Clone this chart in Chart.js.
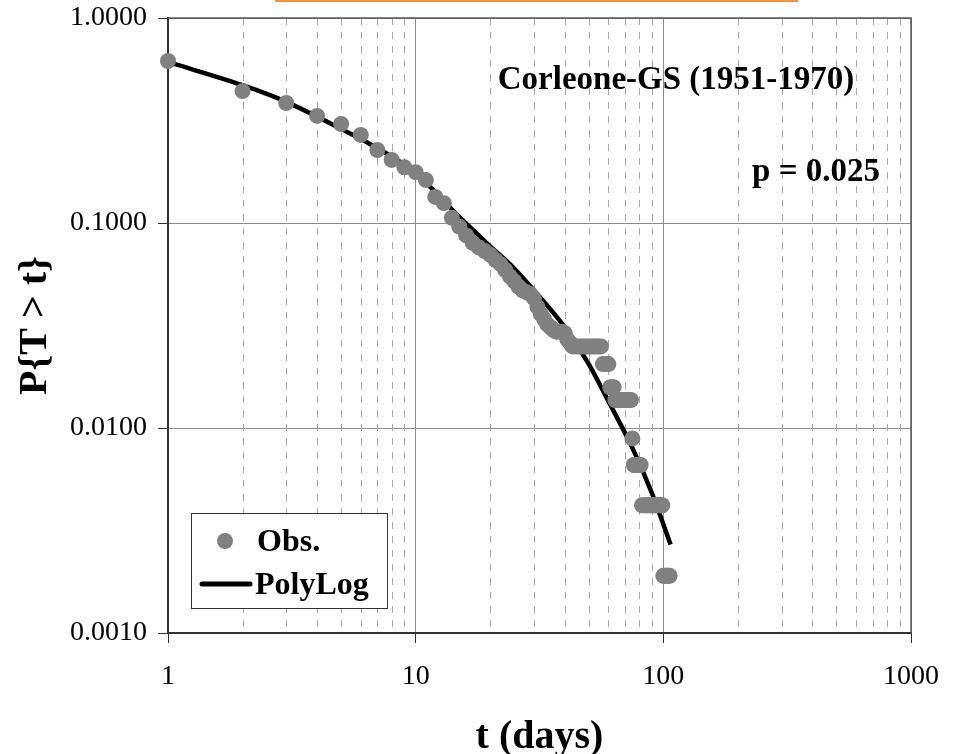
<!DOCTYPE html>
<html>
<head>
<meta charset="utf-8">
<script src="https://cdn.jsdelivr.net/npm/chart.js@4"></script>
<style>
html, body { margin: 0; padding: 0; background: #fff; }
#wrap { width: 959px; height: 754px; position: relative; }
</style>
</head>
<body>
<div id="wrap"><canvas id="chart" width="959" height="754"></canvas></div>
<script>
// observed exceedance probabilities, one per day
const obsT = [1, 2, 3, 4, 5, 6, 7, 8, 9, 10, 11, 12, 13, 14, 15, 16, 17, 18, 19, 20,
  21, 22, 23, 24, 25, 26, 27, 28, 29, 30, 31, 32, 33, 34, 35, 36, 37, 38, 39, 40,
  41, 42, 43, 44, 45, 46, 47, 48, 49, 50, 51, 52, 53, 54, 55, 56, 57, 58, 59, 60,
  61, 62, 63, 64, 65, 66, 67, 68, 69, 70, 71, 72, 73, 74, 75, 76, 77, 78, 79, 80,
  81, 82, 83, 84, 85, 86, 87, 88, 89, 90, 91, 92, 93, 94, 95, 96, 97, 98, 99, 100,
  101, 102, 103, 104, 105, 106];
const obsP = [0.617, 0.44, 0.385, 0.333, 0.304, 0.269, 0.227, 0.203, 0.187, 0.177,
  0.162, 0.134, 0.125, 0.106, 0.096, 0.087, 0.080, 0.076, 0.073, 0.070,
  0.066, 0.063, 0.059, 0.055, 0.052, 0.049, 0.047, 0.046, 0.045, 0.043,
  0.039, 0.036, 0.034, 0.032, 0.031, 0.030, 0.0295, 0.0295, 0.0295, 0.029,
  0.027, 0.026, 0.025, 0.025, 0.025, 0.025, 0.025, 0.025, 0.025, 0.025,
  0.025, 0.025, 0.025, 0.025, 0.025, 0.025, 0.0205, 0.0205, 0.0205, 0.0205,
  0.0158, 0.0158, 0.0158, 0.0137, 0.0137, 0.0137, 0.0137, 0.0137, 0.0137, 0.0137,
  0.0137, 0.0137, 0.0137, 0.0137, 0.0089, 0.0066, 0.0066, 0.0066, 0.0066, 0.0066,
  0.0066, 0.0042, 0.0042, 0.0042, 0.0042, 0.0042, 0.0042, 0.0042, 0.0042, 0.0042,
  0.0042, 0.0042, 0.0042, 0.0042, 0.0042, 0.0042, 0.0042, 0.0042, 0.0042, 0.0019,
  0.0019, 0.0019, 0.0019, 0.0019, 0.0019, 0.0019];

// PolyLog fitted curve
const fitT = [1, 2, 3, 5, 7, 10, 15, 20, 25, 30, 40, 50, 60, 75, 90, 107];
const fitP = [0.61, 0.47, 0.39, 0.288, 0.232, 0.175, 0.107, 0.077, 0.060, 0.047,
  0.031, 0.0205, 0.0135, 0.0080, 0.0048, 0.0027];

const xTicks = [1, 10, 100, 1000];
const xMinor = [2, 3, 4, 5, 6, 7, 8, 9, 20, 30, 40, 50, 60, 70, 80, 90,
  200, 300, 400, 500, 600, 700, 800, 900];
const yTicks = [0.001, 0.01, 0.1, 1];

const serif = '"Liberation Serif", "Times New Roman", serif';

const decor = {
  id: 'decor',
  beforeDatasetsDraw(chart) {
    const { ctx, chartArea: a, scales: { x } } = chart;
    ctx.save();
    // dashed minor grid
    ctx.strokeStyle = '#a6a6a6';
    ctx.lineWidth = 1;
    ctx.setLineDash([7, 7]);
    xMinor.forEach(v => {
      const px = Math.round(x.getPixelForValue(v)) + 0.5;
      ctx.beginPath();
      ctx.moveTo(px, a.top);
      ctx.lineTo(px, a.bottom);
      ctx.stroke();
    });
    ctx.setLineDash([]);
    // frame top / right
    ctx.strokeStyle = '#555';
    ctx.lineWidth = 1.5;
    ctx.beginPath();
    ctx.moveTo(a.left, a.top);
    ctx.lineTo(a.right, a.top);
    ctx.lineTo(a.right, a.bottom);
    ctx.stroke();
    ctx.restore();
  },
  afterDraw(chart) {
    const ctx = chart.ctx;
    ctx.save();
    // orange strip at the top edge
    ctx.fillStyle = '#F7923A';
    ctx.fillRect(275, 0, 523, 2);

    ctx.fillStyle = '#000';
    ctx.textBaseline = 'middle';
    ctx.textAlign = 'center';
    ctx.font = 'bold 33px ' + serif;
    ctx.fillText('Corleone-GS (1951-1970)', 676, 80);
    ctx.fillText('p = 0.025', 816, 172);

    // legend
    ctx.fillStyle = '#fff';
    ctx.fillRect(191, 513, 196, 95);
    ctx.strokeStyle = '#333';
    ctx.lineWidth = 1;
    ctx.strokeRect(191.5, 513.5, 196, 95);
    ctx.fillStyle = '#808080';
    ctx.beginPath();
    ctx.arc(225, 541, 8, 0, Math.PI * 2);
    ctx.fill();
    ctx.strokeStyle = '#000';
    ctx.lineWidth = 5;
    ctx.lineCap = 'round';
    ctx.beginPath();
    ctx.moveTo(202, 584);
    ctx.lineTo(250, 584);
    ctx.stroke();
    ctx.fillStyle = '#000';
    ctx.textAlign = 'left';
    ctx.font = 'bold 32px ' + serif;
    ctx.fillText('Obs.', 257, 543);
    ctx.fillText('PolyLog', 255, 586);
    ctx.restore();
  }
};

const ctx = document.getElementById('chart').getContext('2d');
new Chart(ctx, {
  type: 'scatter',
  data: {
    datasets: [
      {
        label: 'Obs.',
        data: obsT.map((t, i) => ({ x: t, y: obsP[i] })),
        backgroundColor: '#808080',
        borderWidth: 0,
        pointRadius: 8,
        clip: false,
        order: 0
      },
      {
        type: 'line',
        label: 'PolyLog',
        data: fitT.map((t, i) => ({ x: t, y: fitP[i] })),
        borderColor: '#000',
        borderWidth: 4.5,
        pointRadius: 0,
        cubicInterpolationMode: 'monotone',
        fill: false,
        order: 1
      }
    ]
  },
  options: {
    responsive: false,
    animation: false,
    devicePixelRatio: 1,
    layout: { padding: { left: 0, top: 18, right: 48, bottom: 0 } },
    plugins: { legend: { display: false }, tooltip: { enabled: false } },
    scales: {
      x: {
        type: 'logarithmic',
        min: 1,
        max: 1000,
        afterBuildTicks: s => { s.ticks = xTicks.map(v => ({ value: v })); },
        afterFit: s => { s.height = 121; s.paddingLeft = 0; s.paddingRight = 0; },
        ticks: {
          color: '#000',
          font: { family: serif, size: 28 },
          padding: 17,
          maxRotation: 0,
          callback: v => String(v)
        },
        grid: { color: '#8c8c8c', lineWidth: 1, tickColor: '#333', tickLength: 10 },
        border: { color: '#333', width: 2 },
        title: {
          display: true,
          text: 't (days)',
          color: '#000',
          font: { family: serif, size: 40, weight: 'bold', lineHeight: 0.8 },
          padding: 0
        }
      },
      y: {
        type: 'logarithmic',
        min: 0.001,
        max: 1,
        afterBuildTicks: s => { s.ticks = yTicks.map(v => ({ value: v })); },
        afterFit: s => { s.width = 168; s.paddingTop = 0; s.paddingBottom = 0; },
        ticks: {
          color: '#000',
          font: { family: serif, size: 28 },
          padding: 11,
          callback: v => Number(v).toFixed(4)
        },
        grid: { color: '#8c8c8c', lineWidth: 1, tickColor: '#333', tickLength: 10 },
        border: { color: '#333', width: 2 },
        title: {
          display: true,
          text: 'P{T > t}',
          color: '#000',
          font: { family: serif, size: 40, weight: 'bold', lineHeight: 1 },
          padding: { top: 16, bottom: 0 }
        }
      }
    }
  },
  plugins: [decor]
});
</script>
</body>
</html>
